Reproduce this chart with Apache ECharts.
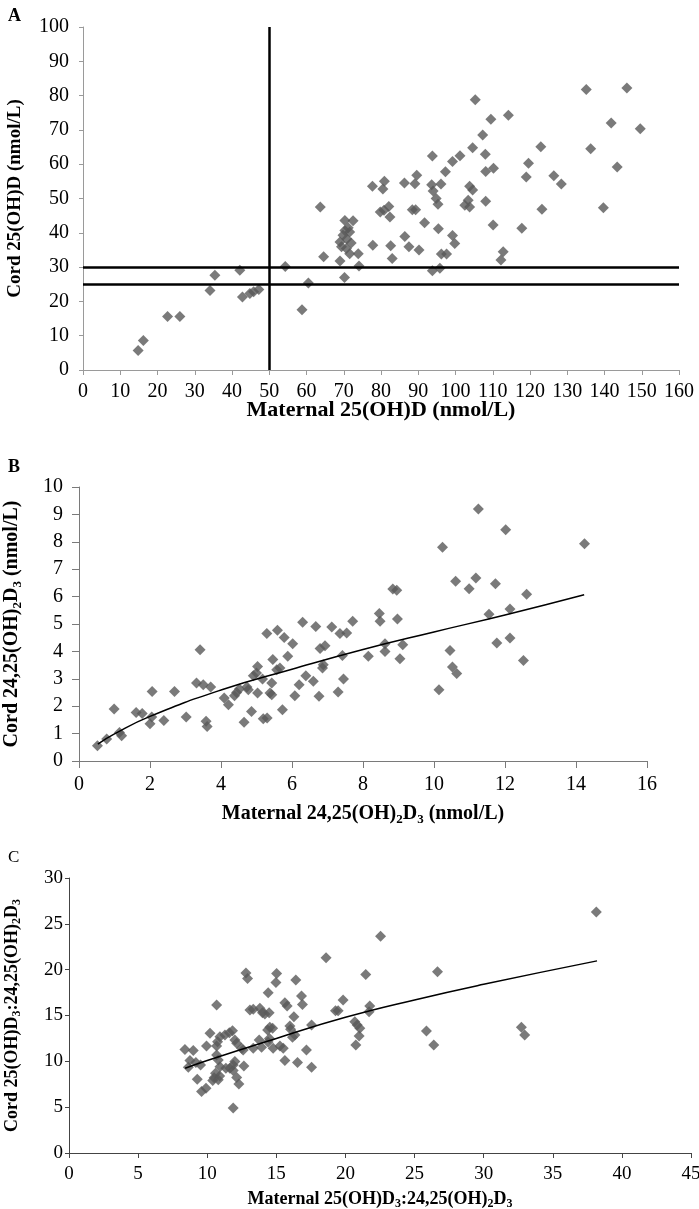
<!DOCTYPE html>
<html><head><meta charset="utf-8">
<script src="https://cdn.jsdelivr.net/npm/echarts@6/dist/echarts.min.js"></script>
<style>html,body{margin:0;padding:0;background:#fff}#c{width:699px;height:1209px}</style>
</head><body><div id="c"></div>
<script>
// Panel A: maternal vs cord 25(OH)D
const pointsA = [
[14.8,5.7],[16.2,8.6],[22.7,15.6],[26.0,15.6],[34.1,23.2],[35.4,27.6],[42.1,29.1],[42.8,21.3],[44.8,22.3],[45.8,22.8],[47.2,23.5],
[54.3,30.2],[58.8,17.6],[60.5,25.4],[63.7,47.5],[64.6,33.0],
[70.3,43.6],[72.5,43.5],[70.3,40.7],[71.6,40.2],[69.8,39.3],[69.0,37.3],[69.4,35.9],[70.7,35.4],[71.6,33.9],[73.9,33.9],[69.0,31.8],[74.1,30.3],[70.2,27.0],
[70.8,38.2],[71.2,41.5],[72.0,37.0],
[77.8,36.4],[82.6,36.2],[83.0,32.5],[86.4,38.9],[87.5,35.9],[90.2,35.0],
[77.7,53.6],[80.9,55.0],[80.5,52.8],[79.8,46.1],[82.1,47.7],[82.4,44.6],[80.8,46.6],
[86.3,54.5],[89.1,54.3],[89.6,56.8],[88.4,46.7],[89.3,46.7],
[91.7,42.9],[95.4,41.2],[93.8,28.9],[95.8,29.7],[96.2,33.8],[97.6,33.8],
[99.2,39.2],[99.8,36.9],[93.8,62.4],[97.3,57.8],[99.2,60.8],[101.2,62.5],
[93.6,54.0],[94.0,52.2],[94.8,50.0],[95.3,48.3],[96.1,54.2],
[103.8,53.6],[104.6,52.5],[102.5,48.0],[103.8,47.5],[103.4,49.5],
[105.3,78.8],[109.5,73.1],[114.2,74.3],[107.3,68.5],[104.6,64.8],[108.0,62.9],
[108.1,57.9],[110.2,58.8],[108.1,49.2],[110.1,42.3],[112.8,34.5],[112.2,32.1],
[117.8,41.3],[119.0,56.3],[119.6,60.3],[122.9,65.1],[123.2,46.9],[126.4,56.6],[128.4,54.2],
[135.1,81.8],[136.3,64.5],[139.7,47.3],[141.8,72.0],[143.4,59.2],[146.0,82.2],[149.6,70.3]
];
const refVerticalA = 50;
const refHorizontalA = [30, 25];

// Panel B: maternal vs cord 24,25(OH)2D3
const pointsB = [
[0.52,0.56],[0.78,0.80],[0.99,1.90],[1.14,1.04],[1.20,0.92],[1.61,1.77],[1.78,1.73],[2.06,2.54],[2.0,1.36],[2.05,1.61],
[2.39,1.48],[2.69,2.54],[3.02,1.61],[3.31,2.85],[3.41,4.06],[3.50,2.78],[3.58,1.45],[3.61,1.26],[3.71,2.70],
[4.09,2.30],[4.21,2.05],[4.38,2.38],[4.44,2.50],[4.52,2.63],[4.65,1.41],[4.73,2.70],[4.77,2.60],[4.86,1.81],
[4.91,3.11],[5.0,3.21],[5.03,3.45],[5.03,2.48],[5.17,2.99],[5.19,1.54],[5.30,1.57],[5.29,4.65],[5.46,3.70],
[5.38,2.48],[5.43,2.42],[5.43,2.85],[5.59,4.77],[5.57,3.33],[5.66,3.39],[5.73,1.87],[5.78,4.51],[5.88,3.82],
[6.02,4.28],[6.08,2.38],[6.20,2.78],[6.30,5.06],[6.39,3.11],[6.60,2.91],[6.67,4.91],[6.79,4.11],[6.93,4.21],
[6.76,2.36],[6.88,3.51],[6.86,3.39],[7.12,4.89],[7.35,4.65],[7.54,4.67],[7.42,3.85],[7.45,2.99],[7.30,2.52],
[7.71,5.10],[8.15,3.82],[8.46,5.38],[8.48,5.10],[8.62,4.28],[8.62,4.00],[8.84,6.28],[8.95,6.23],[8.97,5.18],
[9.12,4.24],[9.04,3.73],[10.24,7.80],[10.14,2.60],[10.45,4.03],[10.52,3.43],[10.64,3.19],[10.61,6.56],
[10.99,6.29],[11.18,6.68],[11.25,9.20],[11.55,5.36],[11.73,6.47],[11.77,4.31],[12.02,8.44],[12.14,5.55],
[12.14,4.49],[12.52,3.67],[12.61,6.09],[14.24,7.93]
];
const trendB = [[0.53,0.62],[1,0.99],[2,1.63],[4,2.59],[6,3.35],[8,4.07],[10,4.71],[12,5.33],[14.23,6.07]];

// Panel C: ratio 25(OH)D3 : 24,25(OH)2D3
const pointsC = [
[8.39,11.3],[8.99,11.17],[8.75,10.08],[9.18,9.86],[9.52,9.61],[8.63,9.36],[9.28,8.05],[9.59,6.71],[9.91,7.07],
[9.95,11.68],[10.2,13.06],[10.68,16.14],[10.68,11.68],[10.75,12.15],[10.92,12.69],[11.28,12.87],[11.6,13.12],[11.83,13.34],
[10.68,10.7],[10.8,10.15],[10.92,9.42],[10.6,8.7],[10.9,8.4],[10.5,8.2],[10.8,8.0],[10.4,7.9],
[11.35,9.25],[11.64,9.25],[11.88,9.61],[12.0,9.97],[11.88,8.99],[12.0,12.33],[12.13,11.97],[12.13,8.23],[12.29,7.54],[11.88,4.9],
[12.49,11.43],[12.6,11.24],[12.65,9.5],[12.8,19.65],[12.92,19.04],[13.09,15.59],[13.33,15.67],[13.33,11.43],
[13.76,12.33],[13.93,11.53],[13.81,15.78],[14.0,15.3],[14.17,15.16],[14.48,15.3],[14.41,17.48],
[14.37,13.42],[14.53,13.71],[14.73,13.6],[14.4,12.1],[14.5,12.5],[14.77,11.43],[15.02,19.59],[14.97,18.6],
[15.26,11.68],[15.5,11.43],[15.62,10.08],[15.78,16.03],[15.62,16.39],[15.98,13.85],[16.03,13.49],[16.27,14.87],
[16.17,12.62],[16.34,12.87],[16.41,18.86],[16.53,9.86],[16.82,17.12],[16.89,16.21],[17.18,11.24],[17.55,9.36],[17.55,13.96],
[18.6,21.3],[19.28,15.52],[19.47,15.52],[19.83,16.68],[20.68,14.32],[20.85,13.96],[21.04,13.6],[20.99,12.76],[20.75,11.78],
[21.47,19.48],[21.76,16.03],[21.71,15.41],[22.54,23.64],[25.86,13.31],[26.39,11.78],[26.66,19.76],
[32.73,13.71],[32.97,12.87],[38.15,26.29]
];
const trendC = [[8.4,9.25],[10,10.1],[15,12.5],[20,14.8],[25,16.7],[30,18.4],[38.2,20.96]];

const FF = '"Liberation Serif","Times New Roman",serif';
const MARK = '#595959';
function richFor(size) {
  return {
    n: {fontSize: size, fontWeight: 'bold', fontFamily: FF, color: '#000', lineHeight: size + 4},
    s: {fontSize: Math.round(size * 0.65), fontWeight: 'bold', fontFamily: FF, color: '#000',
        lineHeight: Math.round(size * 0.65), verticalAlign: 'bottom'}
  };
}
function ax(grid, min, max, interval, name, gap, nameSize, col, tickLen, margin, labelSize) {
  return {type: 'value', gridIndex: grid, min: min, max: max, interval: interval,
    name: name, nameLocation: 'middle', nameGap: gap, nameMoveOverlap: false,
    nameTextStyle: {fontFamily: FF, fontSize: nameSize, fontWeight: 'bold', color: '#000', rich: richFor(nameSize)},
    splitLine: {show: false},
    axisLine: {onZero: false, lineStyle: {color: col, width: 1}},
    axisTick: {show: true, inside: false, length: tickLen, lineStyle: {color: col}},
    axisLabel: {fontFamily: FF, fontSize: labelSize, color: '#000', margin: margin}};
}
const chart = echarts.init(document.getElementById('c'), null, {renderer: 'canvas'});
chart.setOption({
  animation: false,
  backgroundColor: '#fff',
  title: [
    {text: 'A', left: 3, top: 2, textStyle: {fontFamily: FF, fontSize: 18, fontWeight: 'bold', color: '#000'}},
    {text: 'B', left: 3, top: 453, textStyle: {fontFamily: FF, fontSize: 18, fontWeight: 'bold', color: '#000'}},
    {text: 'C', left: 3, top: 844, textStyle: {fontFamily: FF, fontSize: 17, fontWeight: 'normal', color: '#000'}}
  ],
  grid: [
    {left: 83, top: 27, width: 596, height: 343, outerBoundsMode: 'none', containLabel: false},
    {left: 79, top: 487, width: 568, height: 274, outerBoundsMode: 'none', containLabel: false},
    {left: 69, top: 878, width: 622, height: 275, outerBoundsMode: 'none', containLabel: false}
  ],
  xAxis: [
    ax(0, 0, 160, 10, '{n|Maternal 25(OH)D (nmol/L)}', 27, 22, '#9a9a9a', 5, 12, 20),
    ax(1, 0, 16, 2, '{n|Maternal 24,25(OH)}{s|2}{n|D}{s|3}{n| (nmol/L)}', 41, 20, '#7a7a7a', 7, 14, 20),
    ax(2, 0, 45, 5, '{n|Maternal 25(OH)D}{s|3}{n|:24,25(OH)}{s|2}{n|D}{s|3}', 35, 18, '#444', 5, 12, 19)
  ],
  yAxis: [
    ax(0, 0, 100, 10, '{n|Cord 25(OH)D (nmol/L)}', 56, 19, '#9a9a9a', 4, 14, 20),
    ax(1, 0, 10, 1, '{n|Cord 24,25(OH)}{s|2}{n|D}{s|3}{n| (nmol/L)}', 55, 20, '#7a7a7a', 7, 16, 20),
    ax(2, 0, 30, 5, '{n|Cord 25(OH)D}{s|3}{n|:24,25(OH)}{s|2}{n|D}{s|3}', 46, 18, '#444', 4, 6, 19)
  ],
  series: [
    {type: 'scatter', xAxisIndex: 0, yAxisIndex: 0, data: pointsA, symbol: 'diamond', symbolSize: [11, 11],
      itemStyle: {color: MARK}, z: 3,
      markLine: {silent: true, symbol: 'none', label: {show: false},
        lineStyle: {color: '#000', width: 2.5, type: 'solid'},
        data: [{xAxis: refVerticalA}].concat(refHorizontalA.map(v => ({yAxis: v})))}},
    {type: 'scatter', xAxisIndex: 1, yAxisIndex: 1, data: pointsB, symbol: 'diamond', symbolSize: [11, 11],
      itemStyle: {color: MARK}},
    {type: 'line', xAxisIndex: 1, yAxisIndex: 1, data: trendB, smooth: true, showSymbol: false,
      lineStyle: {color: '#000', width: 1.5}, z: 4},
    {type: 'scatter', xAxisIndex: 2, yAxisIndex: 2, data: pointsC, symbol: 'diamond', symbolSize: [11, 11],
      itemStyle: {color: MARK}},
    {type: 'line', xAxisIndex: 2, yAxisIndex: 2, data: trendC, smooth: true, showSymbol: false,
      lineStyle: {color: '#000', width: 1.5}, z: 4}
  ]
});
</script></body></html>
